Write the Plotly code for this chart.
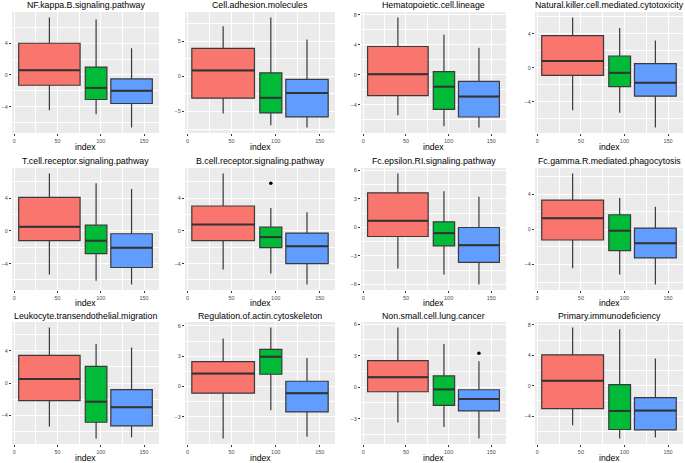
import plotly.graph_objects as go
from plotly.subplots import make_subplots

W, H = 685, 463

pathways = [
    "NF.kappa.B.signaling.pathway", "Cell.adhesion.molecules",
    "Hematopoietic.cell.lineage", "Natural.killer.cell.mediated.cytotoxicity",
    "T.cell.receptor.signaling.pathway", "B.cell.receptor.signaling.pathway",
    "Fc.epsilon.RI.signaling.pathway", "Fc.gamma.R.mediated.phagocytosis",
    "Leukocyte.transendothelial.migration", "Regulation.of.actin.cytoskeleton",
    "Non.small.cell.lung.cancer", "Primary.immunodeficiency",
]

# group position / width along "index" (red, green, blue)
group_x = [40.5, 94.5, 135.5]
group_w = [71, 25, 48]
colors = ["#F8766D", "#00BA38", "#619CFF"]

# box stats per group: [lower whisker, q1, median, q3, upper whisker]
nf_kappa = [[-4.46, -1.3, 0.58, 4.0, 7.25], [-4.96, -3.1, -1.63, 1.0, 7.0], [-6.63, -3.6, -2.0, -0.5, 3.37]]
cell_adhesion = [[-5.3, -3.1, 0.85, 3.99, 7.14], [-6.95, -5.2, -3.05, 0.52, 8.4], [-7.28, -5.77, -2.35, -0.42, 5.26]]
hematopoietic = [[-5.4, -2.77, 0.09, 3.78, 7.65], [-6.86, -4.6, -1.58, 0.44, 5.36], [-7.03, -5.63, -2.9, -0.88, 3.6]]
natural_killer = [[-5.0, -0.89, 0.82, 3.8, 5.94], [-5.28, -2.21, -0.58, 1.4, 4.7], [-7.03, -3.34, -1.75, 0.5, 3.22]]
t_cell = [[-5.33, -1.21, 0.48, 4.08, 6.99], [-6.1, -2.79, -1.21, 0.69, 5.82], [-6.55, -4.48, -2.06, -0.36, 5.09]]
b_cell = [[-4.73, -1.21, 0.77, 3.03, 6.99], [-5.21, -2.06, -0.77, 0.44, 2.79], [-6.55, -4.0, -1.9, -0.28, 2.26]]
fc_epsilon = [[-4.32, -0.95, 0.7, 3.65, 5.68], [-4.95, -1.93, -0.6, 0.6, 3.82], [-6.0, -3.68, -1.86, 0.0, 3.23]]
fc_gamma = [[-4.42, -1.21, 1.25, 3.32, 6.34], [-5.13, -2.42, -0.15, 1.66, 3.55], [-6.26, -3.25, -1.58, 0.15, 2.57]]
leukocyte = [[-5.37, -2.17, 0.49, 3.4, 6.84], [-6.84, -4.84, -2.3, 2.05, 4.8], [-6.68, -5.29, -2.99, -0.82, 4.39]]
actin = [[-5.15, -0.66, 1.28, 2.46, 4.75], [-2.36, 1.21, 2.95, 3.67, 5.84], [-4.98, -2.52, -0.66, 0.52, 2.82]]
nsclc = [[-3.38, -0.44, 0.95, 2.53, 5.68], [-3.79, -1.74, -0.22, 1.07, 4.1], [-4.89, -2.27, -1.14, -0.25, 2.46]]
primary_immuno = [[-5.2, -3.01, 0.66, 4.06, 7.64], [-6.94, -5.76, -3.32, 0.13, 7.42], [-6.81, -5.81, -3.28, -1.57, 3.58]]

stats = [nf_kappa, cell_adhesion, hematopoietic, natural_killer, t_cell, b_cell,
         fc_epsilon, fc_gamma, leukocyte, actin, nsclc, primary_immuno]

# outliers: (panel, group, value)
outliers = [(5, 1, 5.82), (10, 2, 3.22)]

y_dtick = [4, 5, 4, 4, 4, 4, 3, 4, 4, 3, 3, 4]

# panel pixel boxes
col_px = [(12, 159), (185, 335), (361, 506), (535, 683)]
row_px = [(12, 133), (168, 290), (322, 444)]
title_y = [5, 160.5, 316]
xlab_y = [147, 303, 458]

fig = make_subplots(rows=3, cols=4)
annotations = []

xs_lo = min(c - w / 2 for c, w in zip(group_x, group_w))
xs_hi = max(c + w / 2 for c, w in zip(group_x, group_w))
xpad = 0.05 * (xs_hi - xs_lo)

for i, name in enumerate(pathways):
    r, c = i // 4, i % 4
    st = stats[i]
    for g in range(3):
        lo, q1, med, q3, hi = st[g]
        fig.add_trace(go.Box(
            x=[group_x[g]], q1=[q1], median=[med], q3=[q3], lowerfence=[lo], upperfence=[hi],
            width=group_w[g], fillcolor=colors[g], line=dict(color="#3a3a3a", width=1.2),
            whiskerwidth=0, boxpoints=False, showlegend=False, hoverinfo="skip",
        ), row=r + 1, col=c + 1)
        fig.add_trace(go.Scatter(
            x=[group_x[g] - group_w[g] / 2, group_x[g] + group_w[g] / 2], y=[med, med],
            mode="lines", line=dict(color="#333333", width=2), showlegend=False, hoverinfo="skip",
        ), row=r + 1, col=c + 1)
    vals = [v for s in st for v in (s[0], s[4])]
    for p, g, v in outliers:
        if p == i:
            vals.append(v)
            fig.add_trace(go.Scatter(x=[group_x[g]], y=[v], mode="markers",
                                     marker=dict(color="black", size=3.5), showlegend=False),
                          row=r + 1, col=c + 1)
    ylo, yhi = min(vals), max(vals)
    ypad = 0.05 * (yhi - ylo)

    x0, x1 = col_px[c]
    y0, y1 = row_px[r]
    fig.update_xaxes(domain=[x0 / W, x1 / W], range=[xs_lo - xpad, xs_hi + xpad],
                     tickmode="linear", tick0=0, dtick=50,
                     minor=dict(tickmode="linear", tick0=0, dtick=25, showgrid=True,
                                gridcolor="white", gridwidth=0.5),
                     row=r + 1, col=c + 1)
    fig.update_yaxes(domain=[1 - y1 / H, 1 - y0 / H], range=[ylo - ypad, yhi + ypad],
                     tickmode="linear", tick0=0, dtick=y_dtick[i],
                     minor=dict(tickmode="linear", tick0=0, dtick=y_dtick[i] / 2, showgrid=True,
                                gridcolor="white", gridwidth=0.5),
                     row=r + 1, col=c + 1)
    annotations.append(dict(text=name, x=(x0 + x1) / 2 / W, y=1 - title_y[r] / H,
                            xref="paper", yref="paper", xanchor="center", yanchor="middle",
                            showarrow=False, font=dict(size=8.8, color="black")))
    annotations.append(dict(text="index", x=(x0 + x1) / 2 / W, y=1 - xlab_y[r] / H,
                            xref="paper", yref="paper", xanchor="center", yanchor="middle",
                            showarrow=False, font=dict(size=8.6, color="black")))

fig.update_xaxes(showgrid=True, gridcolor="white", gridwidth=1, zeroline=False,
                 ticks="outside", ticklen=2, tickcolor="#333333", tickwidth=0.6,
                 tickfont=dict(size=5.5, color="#4D4D4D"), showline=False)
fig.update_yaxes(showgrid=True, gridcolor="white", gridwidth=1, zeroline=False,
                 ticks="outside", ticklen=2, tickcolor="#333333", tickwidth=0.6,
                 tickfont=dict(size=5.5, color="#4D4D4D"), showline=False)

fig.update_layout(
    width=W, height=H, margin=dict(l=0, r=0, t=0, b=0),
    plot_bgcolor="#EBEBEB", paper_bgcolor="white",
    font=dict(family="Liberation Sans, Arial, sans-serif"),
    annotations=annotations, boxmode="overlay",
)

fig.write_html("out.html", config={"displayModeBar": False},
               post_script="document.body.style.margin='0';")
